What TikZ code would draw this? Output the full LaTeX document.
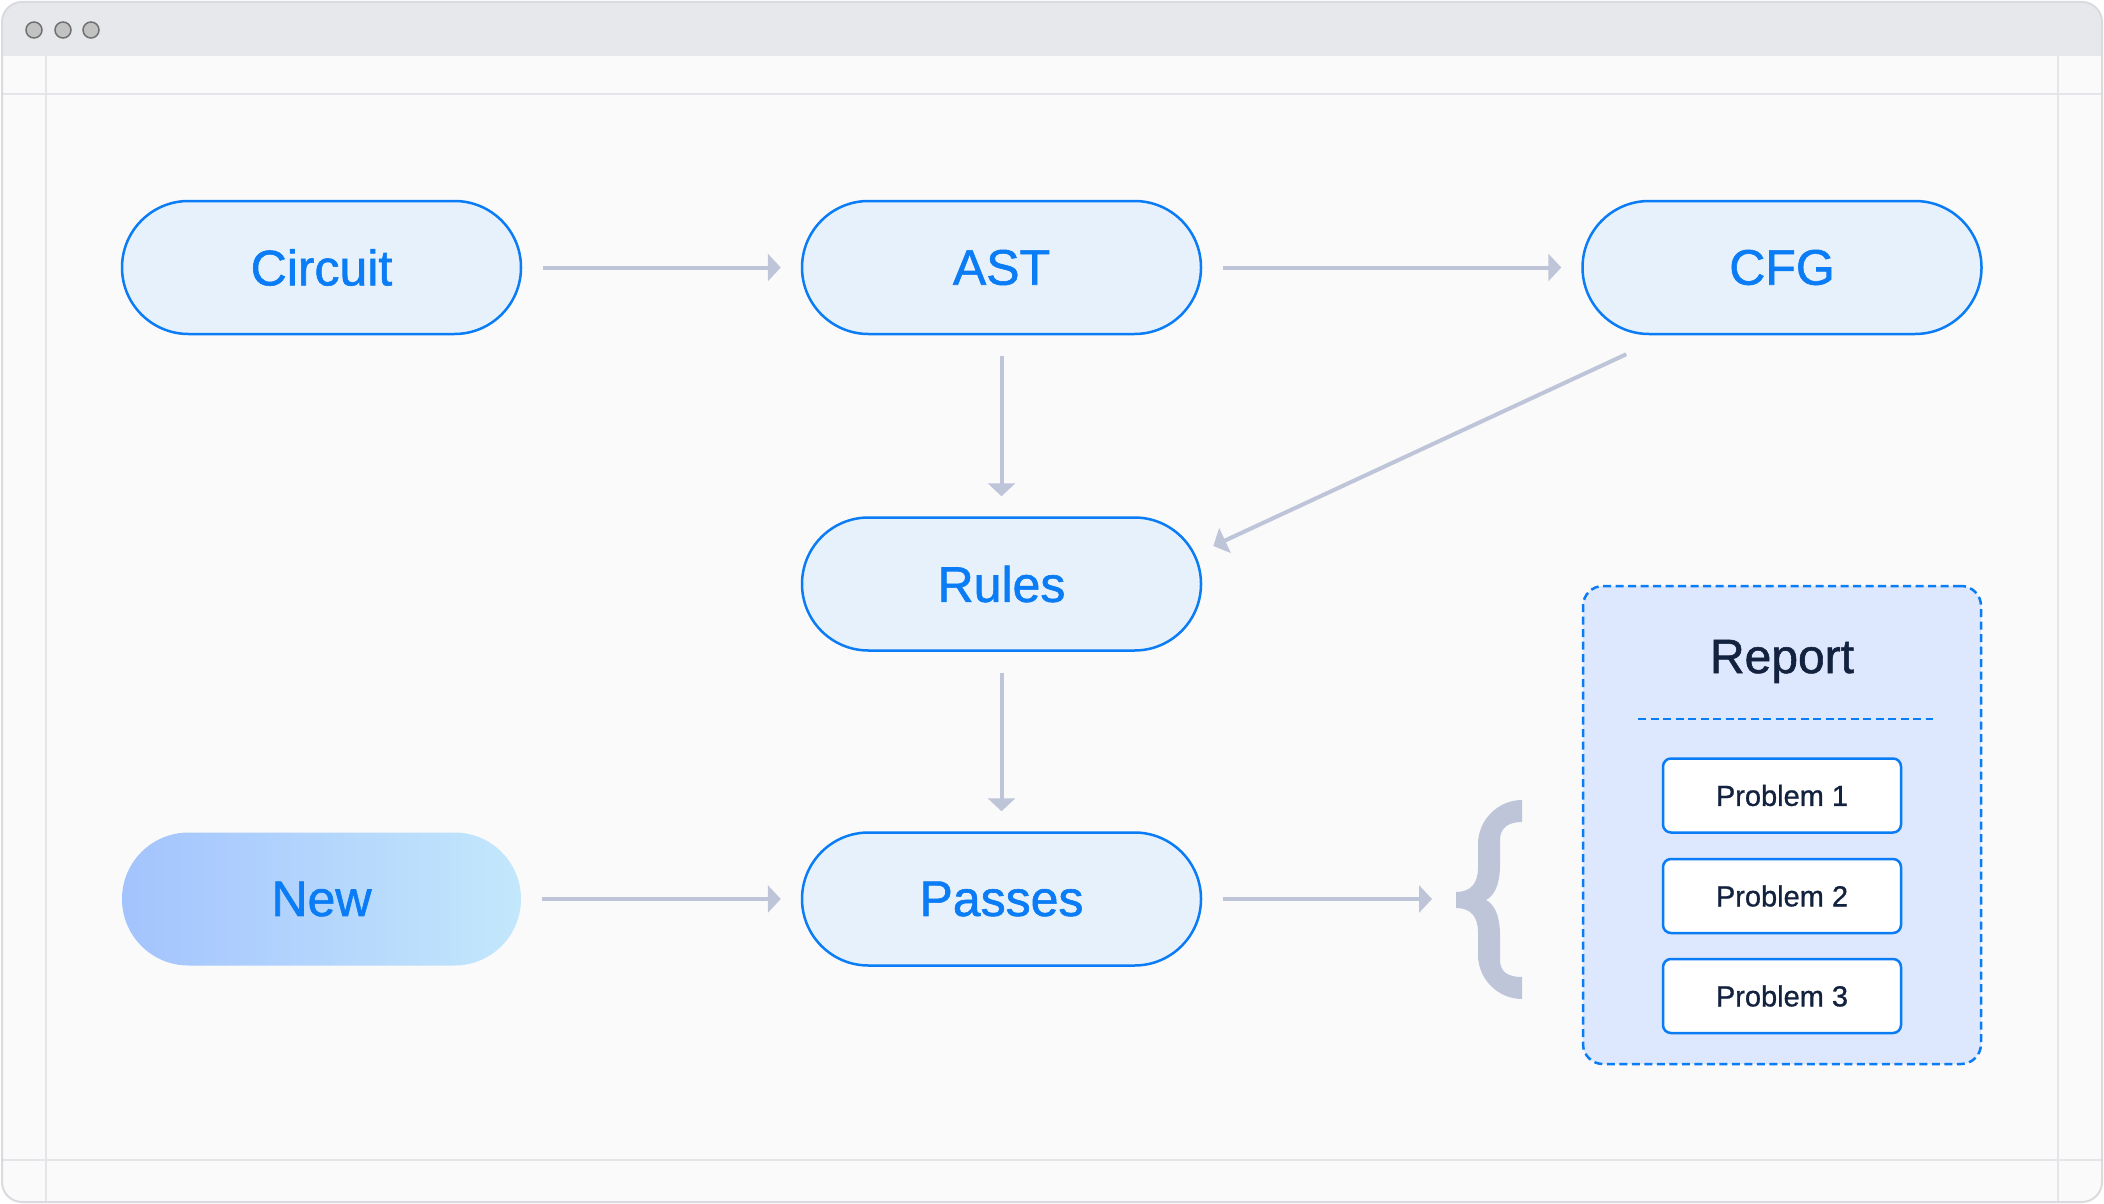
\documentclass[tikz,border=0pt]{standalone}
\usepackage{fontspec}
\setmainfont{Liberation Sans}
\newfontfamily\labelfont[FakeBold=1.2]{Liberation Sans}
\newfontfamily\smallfont[FakeBold=0.9]{Liberation Sans}
\usetikzlibrary{arrows.meta,calc}
\definecolor{bluec}{HTML}{0A7CF5}
\definecolor{nodefill}{HTML}{E7F1FC}
\definecolor{arrowc}{HTML}{BFC5D8}
\definecolor{repfill}{HTML}{DDE7FD}
\definecolor{darktext}{HTML}{13223F}
\definecolor{winbg}{HTML}{FAFAFA}
\definecolor{titlebg}{HTML}{E7E8EC}
\definecolor{gridc}{HTML}{E4E5E9}
\definecolor{framec}{HTML}{DADBDF}
\definecolor{dotfill}{HTML}{C2C2C2}
\definecolor{dotdraw}{HTML}{717171}
\definecolor{newl}{HTML}{A3C3FD}
\definecolor{newr}{HTML}{C3E8FC}
\begin{document}
\begin{tikzpicture}[x=1pt,y=-1pt,
  pill/.style={rectangle, rounded corners=66.5pt, minimum width=399pt, minimum height=133pt,
    inner sep=0pt, font=\labelfont\fontsize{50pt}{56pt}\selectfont, text=bluec},
  stdpill/.style={pill, draw=bluec, line width=2.5pt, fill=nodefill},
  newpill/.style={pill, left color=newl, right color=newr},
  arr/.style={draw=arrowc, line width=4pt, -{Triangle[length=13pt,width=27pt]},
    shorten <=21pt, shorten >=20pt},
  reportbox/.style={rectangle, rounded corners=20pt, draw=bluec, line width=2.5pt,
    dash pattern=on 8pt off 4.5pt, fill=repfill, minimum width=398pt, minimum height=478pt},
  probbox/.style={rectangle, rounded corners=8pt, draw=bluec, line width=2.5pt, fill=white,
    minimum width=238pt, minimum height=74pt, inner sep=0pt,
    font=\smallfont\fontsize{29pt}{34pt}\selectfont, text=darktext},
  gridline/.style={draw=gridc, line width=2pt},
  winbtn/.style={fill=dotfill, draw=dotdraw, line width=1.5pt}
]
% canvas
\fill[white] (0,0) rectangle (2104,1204);
\useasboundingbox (0,0) rectangle (2104,1204);
% window
\fill[winbg, rounded corners=20pt] (2,2) rectangle (2102,1202);
\begin{scope}
  \clip[rounded corners=20pt] (2,2) rectangle (2102,1202);
  \fill[titlebg] (2,2) rectangle (2102,56);
  \draw[gridline] (2,94) -- (2102,94);
  \draw[gridline] (2,1160) -- (2102,1160);
  \draw[gridline] (46,56) -- (46,1202);
  \draw[gridline] (2058,56) -- (2058,1202);
\end{scope}
\draw[framec, line width=2pt, rounded corners=20pt] (2,2) rectangle (2102,1202);
\draw[winbtn] (34,30) circle[radius=8pt];
\draw[winbtn] (63,30) circle[radius=8pt];
\draw[winbtn] (91,30) circle[radius=8pt];

% nodes
\node[stdpill] (circuit) at (321.5,267.5) {Circuit};
\node[stdpill] (ast) at (1001.5,267.5) {AST};
\node[stdpill] (cfg) at (1782,267.5) {CFG};
\node[stdpill] (rules) at (1001.5,584) {Rules};
\node[newpill] (new) at (321.5,899) {New};
\node[stdpill] (passes) at (1001.5,899) {Passes};

% report
\node[reportbox] (report) at (1782,825) {};
\node[anchor=base, font=\labelfont\fontsize{48pt}{54pt}\selectfont, text=darktext] (reporttitle) at (1782,673) {Report};
\coordinate (divl) at (1638,719);
\coordinate (divr) at (1933,719);
\draw[bluec, line width=2.5pt, dash pattern=on 8pt off 4.5pt] (divl) -- (divr);
\node[probbox] (p1) at (1782,795.5) {Problem 1};
\node[probbox] (p2) at (1782,896) {Problem 2};
\node[probbox] (p3) at (1782,996) {Problem 3};

% brace
\fill[arrowc] (1522,800) .. controls (1498,800) and (1478,820) .. (1478,844)
  -- (1478,868) .. controls (1478,884) and (1470,892) .. (1456,892)
  -- (1456,908) .. controls (1470,908) and (1478,916) .. (1478,932)
  -- (1478,955) .. controls (1478,979) and (1498,999) .. (1522,999)
  -- (1522,977) .. controls (1508,977) and (1500,972) .. (1500,960)
  -- (1500,935) .. controls (1500,915) and (1494,904) .. (1486,900)
  .. controls (1494,896) and (1500,885) .. (1500,865)
  -- (1500,840) .. controls (1500,828) and (1508,822) .. (1522,822)
  -- cycle;
\coordinate (bracetip) at (1432,899);

% connectors
\draw[arr] (circuit.east) -- (ast.west);
\draw[arr] (ast.east) -- (cfg.west);
\draw[arr] (ast.south) -- (rules.north);
\draw[arr] (rules.south) -- (passes.north);
\draw[arr] (new.east) -- (passes.west);
\draw[arr, shorten >=0pt] (passes.east) -- (bracetip);
\draw[arr, shorten <=0pt, shorten >=0pt] ($(cfg.south west)+(45,19)$) -- ($(rules.east)+(11,-38)$);
\end{tikzpicture}
\end{document}
